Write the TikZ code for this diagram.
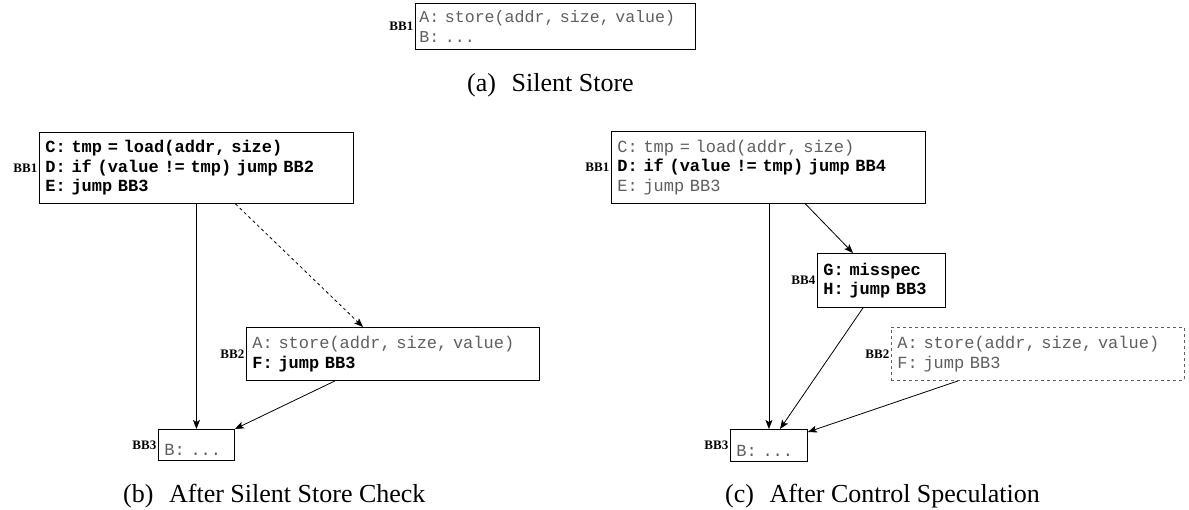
\documentclass[tikz,border=0pt]{standalone}
\usepackage{fontspec}
\setmainfont{Liberation Serif}
\setmonofont{Liberation Mono}
\usetikzlibrary{arrows.meta}
\definecolor{codegray}{RGB}{95,95,95}
\newcommand{\gr}[1]{\textcolor{codegray}{#1}}
\newcommand{\bd}[1]{\textbf{#1}}
% monospaced code: every space is exactly one character cell wide
\newcommand{\codefont}[2]{\fontsize{#1}{#2}\selectfont\ttfamily\frenchspacing
  \spaceskip=0.6em\relax\xspaceskip=0.6em\relax}
\tikzset{
  block/.style={draw=black, line width=0.9pt, anchor=north west,
    inner xsep=6pt, inner ysep=0pt, align=left,
    font=\codefont{17}{19.5}},
  ghost/.style={block, draw=codegray, dash pattern=on 3pt off 3pt},
  lowtext/.style={text height=#1, text depth=5pt},
  bblabel/.style={anchor=east, inner sep=1.5pt,
    font=\fontsize{13}{13}\selectfont\bfseries},
  caption/.style={inner sep=0pt, anchor=base west,
    font=\fontsize{26}{26}\selectfont},
  edge/.style={draw=black, line width=0.8pt,
    -{Stealth[length=9pt,width=7pt,inset=2pt]}},
  spec/.style={edge, dash pattern=on 3pt off 3pt},
}
\begin{document}
\begin{tikzpicture}[x=1pt,y=-1pt]
\useasboundingbox (0,0) rectangle (1189,509);

% (a) original program
\node[block, inner xsep=4pt, text width=272pt, minimum height=46pt,
      font=\codefont{16.6}{20}] (a1) at (415,3)
  {\gr{A: store(addr, size, value)}\\\gr{B: ...}};
\node[bblabel] (a1l) at (a1.west) {BB1};
\node[caption] (capa) at (467,91) {(a)\hspace{0.6em}Silent Store};

% (b) silent store check
\node[block, text width=302pt, minimum height=71pt] (b1) at (39,132)
  {\bd{C: tmp = load(addr, size)}\\\bd{D: if (value != tmp) jump BB2}\\\bd{E: jump BB3}};
\node[bblabel] (b1l) at (b1.west) {BB1};
\node[block, text width=281pt, minimum height=53pt] (b2) at (246,327)
  {\gr{A: store(addr, size, value)}\\\bd{F: jump BB3}};
\node[bblabel] (b2l) at (b2.west) {BB2};
\node[block, text width=64pt, lowtext=26pt] (b3) at (158,429)
  {\gr{B: ...}};
\node[bblabel] (b3l) at (b3.west) {BB3};

\draw[edge] (b3.north |- b1.south) -- (b3.north);
\draw[spec] ([xshift=39pt]b1.south) -- ([xshift=117pt]b2.north west);
\draw[edge] ([xshift=89pt]b2.south west) -- (b3.north east);

\node[caption] (capb) at (123,502)
  {(b)\hspace{0.6em}After Silent Store Check};

% (c) control speculation
\node[block, text width=302pt, minimum height=72pt] (c1) at (611,131)
  {\gr{C: tmp = load(addr, size)}\\\bd{D: if (value != tmp) jump BB4}\\\gr{E: jump BB3}};
\node[bblabel] (c1l) at (c1.west) {BB1};
\node[block, text width=116pt, minimum height=54pt] (c4) at (817,253)
  {\bd{G: misspec}\\\bd{H: jump BB3}};
\node[bblabel] (c4l) at (c4.west) {BB4};
\node[ghost, text width=281pt, minimum height=53pt] (c2) at (891,327)
  {\gr{A: store(addr, size, value)}\\\gr{F: jump BB3}};
\node[bblabel] (c2l) at (c2.west) {BB2};
\node[block, text width=65pt, lowtext=27pt] (c3) at (730,429)
  {\gr{B: ...}};
\node[bblabel] (c3l) at (c3.west) {BB3};

\draw[edge] (c3.north |- c1.south) -- (c3.north);
\draw[edge] ([xshift=37pt]c1.south) -- ([xshift=36pt]c4.north west);
\draw[edge] ([xshift=46pt]c4.south west) -- ([xshift=50pt]c3.north west);
\draw[edge] ([xshift=67pt]c2.south west) -- ([yshift=-3pt]c3.north east);

\node[caption] (capc) at (725,502)
  {(c)\hspace{0.6em}After Control Speculation};
\end{tikzpicture}
\end{document}
